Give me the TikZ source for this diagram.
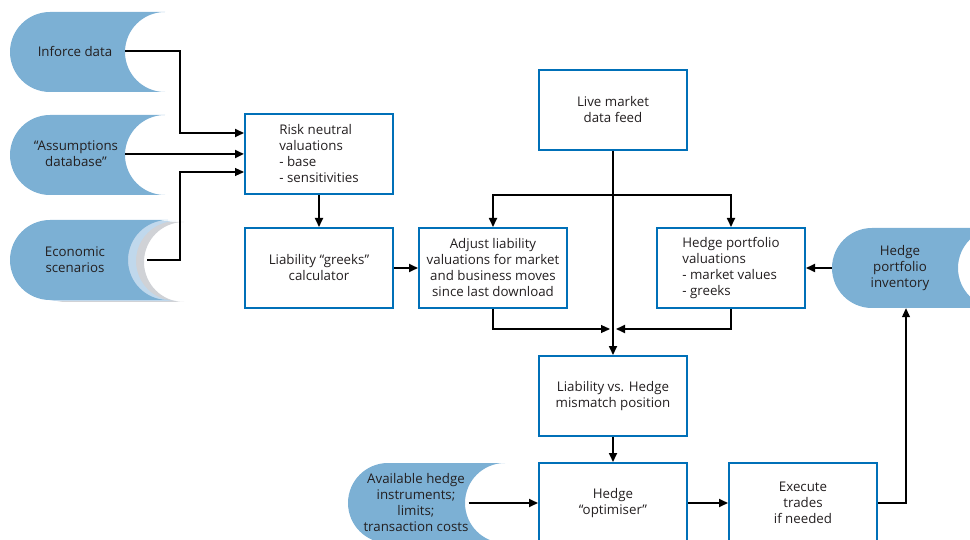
\documentclass[tikz,border=0pt]{standalone}
\usepackage{fontspec}
\setmainfont{Open Sans}
\usetikzlibrary{arrows.meta}
\definecolor{datablue}{RGB}{124,176,212}
\definecolor{layerblue}{RGB}{192,216,236}
\definecolor{layergrey}{RGB}{208,210,214}
\definecolor{boxblue}{RGB}{0,112,184}
\definecolor{txt}{RGB}{35,31,32}
% stored data shape: left, top, width
\newcommand{\storeshape}[4][datablue]{%
	\fill[#1] (#2+40,#3) -- (#2+#4,#3) arc[start angle=-90,end angle=-270,radius=40]
		-- (#2+40,#3+80) arc[start angle=90,end angle=270,radius=40] -- cycle;}
\tikzset{
	stepbox/.style={draw=boxblue, line width=2pt, fill=white, minimum width=148pt, minimum height=80pt, align=center, text=txt},
	datatext/.style={minimum height=80pt, align=center, text=txt, inner sep=0pt},
	arr/.style={line width=1.7pt, -{Triangle[length=9pt,width=8pt]}},
	thinarr/.style={line width=1.1pt, -{Triangle[length=9pt,width=8pt]}},
}
\begin{document}
\begin{tikzpicture}[x=1pt, y=-1pt, font=\fontsize{13.3}{16}\selectfont]
	\useasboundingbox (0,0) rectangle (970,540);
	\clip (0,0) rectangle (970,540);
	% data stores
	\storeshape{10}{12}{155}
	\storeshape{10}{115}{155}
	\storeshape[layergrey]{26}{222}{158}
	\storeshape[layerblue]{18}{221}{158}
	\storeshape{10}{220}{158}
	\storeshape{832}{228}{166}
	\storeshape{348}{463}{157}
	\node (inforce) [datatext, minimum width=100pt] at (75,51) {Inforce data};
	\node (assump) [datatext, minimum width=98pt] at (76,154) {``Assumptions\\database''};
	\node (econ) [datatext, minimum width=144pt] at (75,260) {Economic\\scenarios};
	\node (inventory) [datatext, minimum width=136pt] at (900,268) {Hedge\\portfolio\\inventory};
	\node (avail) [datatext, minimum width=98pt] at (416,503) {Available hedge\\instruments;\\limits;\\transaction costs};
	% process boxes
	\node (risk) [stepbox, align=left] at (319,154) {Risk neutral\\valuations\\- base\\- sensitivities};
	\node (greeks) [stepbox] at (319,268) {Liability ``greeks''\\calculator};
	\node (adjust) [stepbox] at (493,268) {Adjust liability\\valuations for market\\and business moves\\since last download};
	\node (live) [stepbox] at (613,110) {Live market\\data feed};
	\node (hedgeval) [stepbox, align=left] at (731,268) {Hedge portfolio\\valuations\\- market values\\- greeks};
	\node (mismatch) [stepbox] at (613,396) {Liability vs. Hedge\\mismatch position};
	\node (optimiser) [stepbox] at (613,503) {Hedge\\``optimiser''};
	\node (execute) [stepbox] at (803,503) {Execute\\trades\\if needed};
	\coordinate (split) at (613,195);
	\coordinate (merge) at (613,329);
	% connectors
	\draw[arr] (inforce.east) -| (180,133) -- ([yshift=21pt]risk.west);
	\draw[arr, line width=2.3pt] (assump.east) -- (assump.east -| risk.west);
	\draw[thinarr] (econ.east) -| (180,172) -- ([yshift=-18pt]risk.west);
	\draw[arr] (risk) -- (greeks);
	\draw[arr] (greeks) -- (adjust);
	\draw[arr] (live) -- (mismatch);
	\draw[arr] (split) -| (adjust.north);
	\draw[arr] (split) -| (hedgeval.north);
	\draw[thinarr] (adjust.south) |- ([xshift=-3pt]merge);
	\draw[arr] (hedgeval.south) |- ([xshift=3pt]merge);
	\draw[arr] (inventory.west) -- (hedgeval.east);
	\draw[arr] (mismatch) -- (optimiser);
	\draw[arr] (avail.east) -- (optimiser.west);
	\draw[arr] (optimiser) -- (execute);
	\draw[thinarr] (execute.east) -| ([xshift=6pt]inventory.south);
\end{tikzpicture}
\end{document}
